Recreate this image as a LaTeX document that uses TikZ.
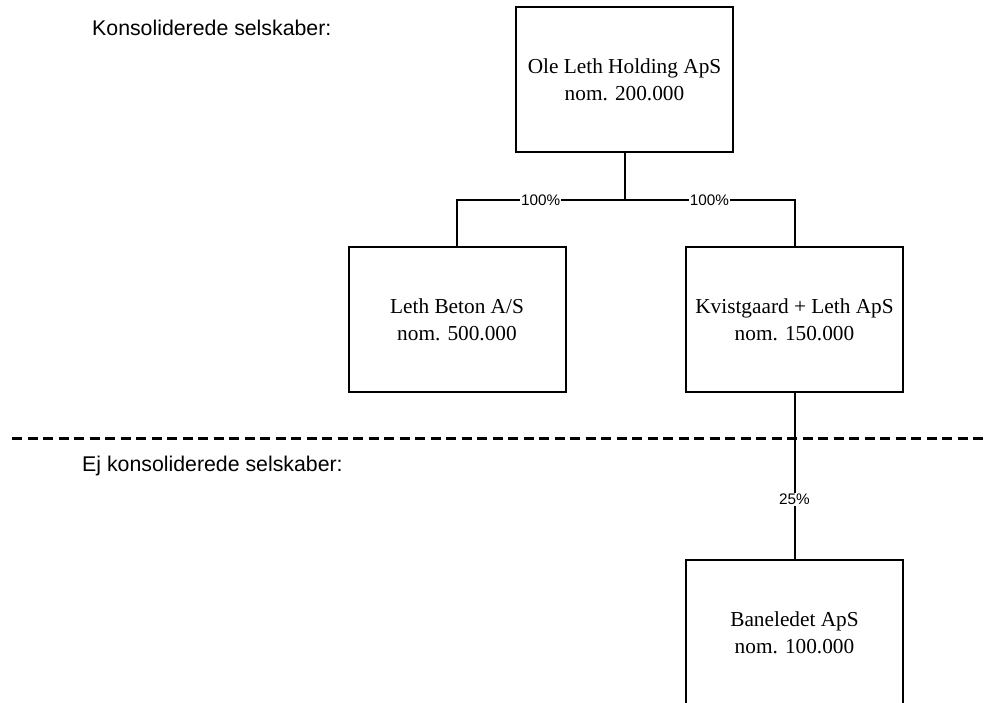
\documentclass[tikz,border=0pt]{standalone}
\usepackage{fontspec}
\setmainfont{Liberation Serif}
\setsansfont{Liberation Sans}
\usetikzlibrary{positioning}

\begin{document}
\begin{tikzpicture}[x=1pt, y=-1pt,
    box/.style={rectangle, draw, line width=2pt, minimum width=217pt, minimum height=145pt, align=center, font=\fontsize{21.3}{27}\selectfont},
    link/.style={line width=2pt},
    pct/.style={fill=white, inner sep=1pt, font=\sffamily\fontsize{15.3}{18}\selectfont},
    heading/.style={anchor=west, inner sep=0pt, font=\sffamily\fontsize{21.3}{25}\selectfont},
    skille/.style={line width=3pt, dash pattern=on 10pt off 5.5pt}
]
    \useasboundingbox (0,0) rectangle (988,702);

    % === KONSOLIDEREDE SELSKABER ===
    \node[heading] (konsol) at (92, 28) {Konsoliderede selskaber:};

    \node[box] (holding) at (624.5, 79.5) {Ole Leth Holding ApS\\nom. 200.000};
    \node[box] (beton) at (457, 319.5) {Leth Beton A/S\\nom. 500.000};
    \node[box] (kvist) at (794.5, 319.5) {Kvistgaard + Leth ApS\\nom. 150.000};

    % ejerandele
    \coordinate (split) at (624.5, 200);
    \draw[link] (holding.south) -- (split) -| node[pct, pos=0.25] {100\%} (beton.north);
    \draw[link] (split) -| node[pct, pos=0.25] {100\%} (kvist.north);

    % === SKILLELINJE ===
    \coordinate (venstre) at (12, 438);
    \coordinate (hoejre) at (988, 438);
    \draw[skille] (venstre) -- (hoejre);

    % === EJ KONSOLIDEREDE SELSKABER ===
    \node[heading] (ejkonsol) at (82, 466) {Ej konsoliderede selskaber:};

    \node[box] (bane) at (794.5, 632.5) {Baneledet ApS\\nom. 100.000};
    \draw[link] (kvist.south) -- node[pct, pos=0.64] {25\%} (bane.north);

\end{tikzpicture}
\end{document}
